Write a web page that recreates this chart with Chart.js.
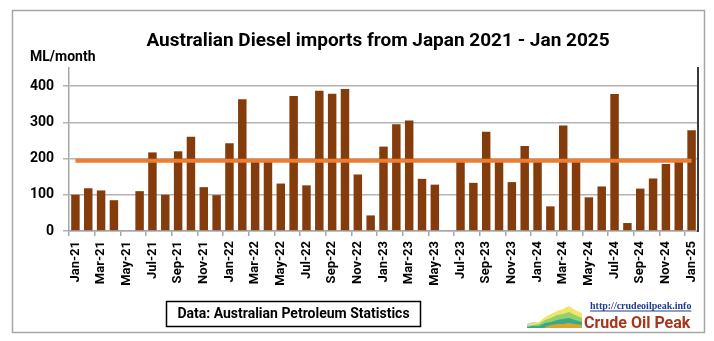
<!DOCTYPE html>
<html>
<head>
<meta charset="utf-8">
<script src="https://cdn.jsdelivr.net/npm/chart.js@4/dist/chart.umd.min.js"></script>
<style>
  html, body { margin: 0; padding: 0; background: #ffffff; }
  #wrap { width: 714px; height: 341px; position: relative; }
</style>
</head>
<body>
<div id="wrap"><canvas id="chart" width="714" height="341"></canvas></div>
<script>
// Monthly categories, Jan-21 .. Jan-25
const months = [
  'Jan-21','Feb-21','Mar-21','Apr-21','May-21','Jun-21','Jul-21','Aug-21','Sep-21','Oct-21','Nov-21','Dec-21',
  'Jan-22','Feb-22','Mar-22','Apr-22','May-22','Jun-22','Jul-22','Aug-22','Sep-22','Oct-22','Nov-22','Dec-22',
  'Jan-23','Feb-23','Mar-23','Apr-23','May-23','Jun-23','Jul-23','Aug-23','Sep-23','Oct-23','Nov-23','Dec-23',
  'Jan-24','Feb-24','Mar-24','Apr-24','May-24','Jun-24','Jul-24','Aug-24','Sep-24','Oct-24','Nov-24','Dec-24',
  'Jan-25'
];

// Diesel imports from Japan, ML per month
const dieselImports = [
  100, 118, 112,  85,   0, 110, 217, 100, 220, 260, 121,  99,
  242, 364, 192, 192, 131, 373, 126, 387, 379, 392, 156,  43,
  233, 295, 305, 144, 128,   0, 192, 133, 274, 192, 135, 235,
  192,  68, 291, 192,  93, 123, 378,  22, 117, 145, 185, 192,
  278
];

// Average level drawn across the whole period
const averageLevel = 194;

// Y axis tick values
const yTickValues = [0, 100, 200, 300, 400];

const FONT = 'Roboto, "Liberation Sans", Arial, sans-serif';

// Frame, headings, source box and site badge
const decorations = {
  id: 'decorations',
  beforeDraw(chart) {
    const c = chart.ctx;
    c.save();
    c.fillStyle = '#ffffff';
    c.fillRect(0, 0, chart.width, chart.height);
    c.strokeStyle = '#a6a6a6';
    c.lineWidth = 1.5;
    c.strokeRect(12.5, 10.5, 692, 322);
    c.restore();
  },
  afterDraw(chart) {
    const c = chart.ctx;
    c.save();
    c.fillStyle = '#000000';
    c.textBaseline = 'alphabetic';

    c.font = 'bold 19px ' + FONT;
    c.textAlign = 'center';
    c.fillText('Australian Diesel imports from Japan 2021 - Jan 2025', 378, 46);

    c.font = 'bold 14px ' + FONT;
    c.textAlign = 'left';
    c.fillText('ML/month', 30, 61);

    // source box
    c.strokeStyle = '#000000';
    c.lineWidth = 1.5;
    c.strokeRect(166.5, 301.5, 254, 25);
    c.font = 'bold 14px ' + FONT;
    c.textAlign = 'center';
    c.textBaseline = 'middle';
    c.fillText('Data: Australian Petroleum Statistics', 293.5, 314.5);

    // site badge: small layered area emblem
    const bx = 527, by = 328;
    const layers = [
      { col: '#9fd3e6', pts: [0,-4, 6,-6, 12,-5, 18,-9, 24,-10, 30,-12, 36,-13, 42,-15, 48,-14, 55,-12] },
      { col: '#f2e36b', pts: [0,-3, 6,-5, 12,-6, 18,-11, 24,-14, 30,-17, 36,-19, 42,-22, 48,-18, 55,-15] },
      { col: '#8fd16a', pts: [0,-2, 6,-3, 12,-4, 18,-8, 24,-10, 30,-13, 36,-14, 42,-16, 48,-13, 55,-10] },
      { col: '#3aa88a', pts: [0,-1, 6,-2, 12,-2, 18,-5, 24,-6, 30,-8, 36,-9, 42,-10, 48,-8, 55,-6] },
      { col: '#d9a531', pts: [18,-1, 24,-3, 30,-4, 36,-4, 42,-5, 48,-4, 55,-3] }
    ];
    layers.forEach(l => {
      c.beginPath();
      c.moveTo(bx + l.pts[0], by);
      for (let i = 0; i < l.pts.length; i += 2) c.lineTo(bx + l.pts[i], by + l.pts[i + 1]);
      c.lineTo(bx + l.pts[l.pts.length - 2], by);
      c.closePath();
      c.fillStyle = l.col;
      c.fill();
    });

    c.textAlign = 'left';
    c.textBaseline = 'alphabetic';
    c.font = 'bold 10px "Liberation Serif", "DejaVu Serif", serif';
    c.fillStyle = '#1f3d8c';
    const url = 'http://crudeoilpeak.info';
    c.fillText(url, 590, 309);
    const w = c.measureText(url).width;
    c.fillRect(590, 310.5, w, 1);

    c.font = 'bold 16px ' + FONT;
    c.fillStyle = '#a8361c';
    c.fillText('Crude Oil Peak', 584, 328);
    c.restore();
  }
};

new Chart(document.getElementById('chart'), {
  data: {
    labels: months,
    datasets: [
      {
        type: 'line',
        label: 'Average',
        data: months.map(() => averageLevel),
        borderColor: '#ed7d31',
        borderWidth: 4,
        pointRadius: 0,
        borderCapStyle: 'butt',
        order: 0
      },
      {
        type: 'bar',
        label: 'Diesel imports',
        data: dieselImports,
        backgroundColor: '#843c0c',
        barPercentage: 0.66,
        categoryPercentage: 1,
        order: 1
      }
    ]
  },
  options: {
    responsive: false,
    animation: false,
    layout: { padding: { left: 12, right: 15, top: 68, bottom: 0 } },
    plugins: { legend: { display: false }, title: { display: false }, tooltip: { enabled: false } },
    scales: {
      x: {
        type: 'category',
        offset: true,
        grid: {
          offset: true,
          drawOnChartArea: false,
          tickLength: 5,
          lineWidth: 1.5,
          color: ctx => (ctx.index % 2 === 0 ? '#a6a6a6' : 'rgba(0,0,0,0)')
        },
        border: { color: '#a6a6a6', width: 1.5 },
        ticks: {
          autoSkip: false,
          minRotation: 90,
          maxRotation: 90,
          padding: 5,
          color: '#000000',
          font: { family: FONT, size: 13, weight: 'bold' },
          callback: (v, i) => (i % 2 === 0 ? months[i] : '')
        },
        afterFit: s => { s.height = 110; }
      },
      y: {
        position: 'left',
        min: 0,
        max: 450,
        afterBuildTicks: s => { s.ticks = yTickValues.map(v => ({ value: v })); },
        grid: { color: '#b3b3b3', lineWidth: 1.5, tickLength: 6 },
        border: { color: '#a6a6a6', width: 1.5 },
        ticks: {
          padding: 9,
          color: '#000000',
          font: { family: FONT, size: 14, weight: 'bold' }
        },
        afterFit: s => { s.width = 57; }
      },
      yRight: {
        position: 'right',
        min: 0,
        max: 450,
        grid: { display: false },
        ticks: { display: false },
        border: { color: '#3a3a3a', width: 2 },
        afterFit: s => { s.width = 1; }
      }
    }
  },
  plugins: [decorations]
});
</script>
</body>
</html>
